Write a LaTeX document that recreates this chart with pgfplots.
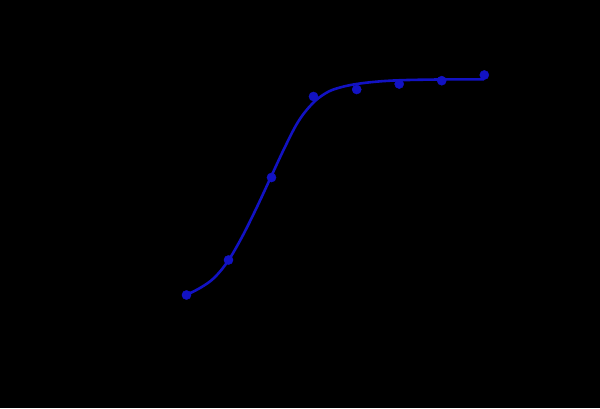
\documentclass[border=0pt]{standalone}
\usepackage{pgfplots}
\pgfplotsset{compat=1.18}
\definecolor{curveblue}{RGB}{18,18,195}
\begin{document}
\begin{tikzpicture}
\begin{axis}[
  scale only axis, width=600bp, height=408bp,
  xmin=0, xmax=600, ymin=0, ymax=408,
  axis background/.style={fill=black},
  axis line style={draw=none}, ticks=none,
  clip=false,
]
\addplot[curveblue, line width=2.6pt, smooth, tension=0.6] coordinates {
 (186,113) (200,120) (214,130) (228,147) (242,171) (256,199) (270,229)
 (284,259) (298,286) (312,304) (326,315) (340,320.5) (360,324.5)
 (390,327.3) (430,328.4) (484,328.7)
};
\addplot[only marks, mark=*, mark size=4.6pt, curveblue] coordinates {
 (186.5,113) (228.5,148) (271.5,230.5) (313.5,311.5) (356.7,318.5) (399.2,324) (441.7,327.3) (484.3,333)
};
\end{axis}
\end{tikzpicture}
\end{document}
